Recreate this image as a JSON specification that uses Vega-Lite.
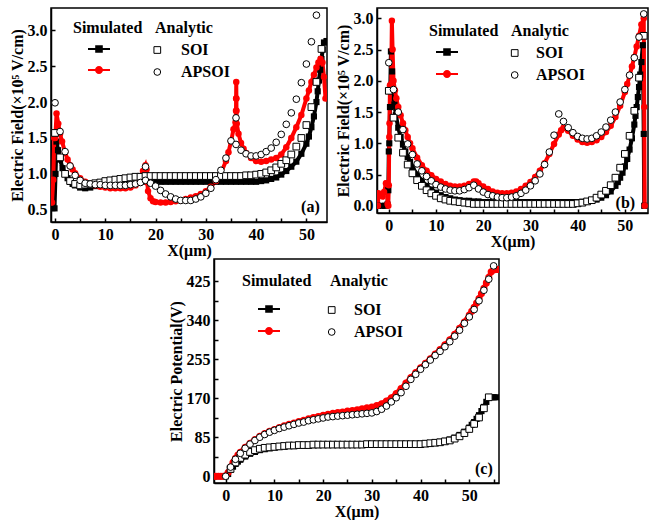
{
"$schema": "https://vega.github.io/schema/vega-lite/v6.json",
"padding": {"left": 8, "top": 7, "right": 0, "bottom": 0},
"datasets": {
"a_sim": [
{"dev":"SOI","x":-0.1,"y":0.52},{"dev":"SOI","x":0.1,"y":1.0},{"dev":"SOI","x":0.3,"y":1.45},{"dev":"SOI","x":0.6,"y":1.33},{"dev":"SOI","x":1,"y":1.2},{"dev":"SOI","x":1.5,"y":1.08},{"dev":"SOI","x":2,"y":1.0},{"dev":"SOI","x":2.5,"y":0.94},{"dev":"SOI","x":3,"y":0.89},{"dev":"SOI","x":3.5,"y":0.86},{"dev":"SOI","x":4,"y":0.84},{"dev":"SOI","x":5,"y":0.81},{"dev":"SOI","x":6,"y":0.8},{"dev":"SOI","x":7,"y":0.81},{"dev":"SOI","x":8,"y":0.83},{"dev":"SOI","x":9,"y":0.85},{"dev":"SOI","x":10,"y":0.86},{"dev":"SOI","x":11,"y":0.87},{"dev":"SOI","x":12,"y":0.88},{"dev":"SOI","x":13,"y":0.88},{"dev":"SOI","x":14,"y":0.89},{"dev":"SOI","x":15,"y":0.89},{"dev":"SOI","x":16,"y":0.89},{"dev":"SOI","x":17,"y":0.89},{"dev":"SOI","x":18,"y":0.89},{"dev":"SOI","x":19,"y":0.89},{"dev":"SOI","x":20,"y":0.89},{"dev":"SOI","x":21,"y":0.89},{"dev":"SOI","x":22,"y":0.89},{"dev":"SOI","x":23,"y":0.89},{"dev":"SOI","x":24,"y":0.89},{"dev":"SOI","x":25,"y":0.89},{"dev":"SOI","x":26,"y":0.89},{"dev":"SOI","x":27,"y":0.89},{"dev":"SOI","x":28,"y":0.89},{"dev":"SOI","x":29,"y":0.89},{"dev":"SOI","x":30,"y":0.89},{"dev":"SOI","x":31,"y":0.89},{"dev":"SOI","x":32,"y":0.89},{"dev":"SOI","x":33,"y":0.89},{"dev":"SOI","x":34,"y":0.89},{"dev":"SOI","x":35,"y":0.89},{"dev":"SOI","x":36,"y":0.89},{"dev":"SOI","x":37,"y":0.89},{"dev":"SOI","x":38,"y":0.89},{"dev":"SOI","x":39,"y":0.89},{"dev":"SOI","x":40,"y":0.89},{"dev":"SOI","x":41,"y":0.9},{"dev":"SOI","x":42,"y":0.91},{"dev":"SOI","x":43,"y":0.93},{"dev":"SOI","x":44,"y":0.95},{"dev":"SOI","x":45,"y":0.99},{"dev":"SOI","x":46,"y":1.04},{"dev":"SOI","x":47,"y":1.1},{"dev":"SOI","x":48,"y":1.17},{"dev":"SOI","x":49,"y":1.28},{"dev":"SOI","x":50,"y":1.42},{"dev":"SOI","x":50.5,"y":1.52},{"dev":"SOI","x":51,"y":1.65},{"dev":"SOI","x":51.5,"y":1.8},{"dev":"SOI","x":52,"y":2.0},{"dev":"SOI","x":52.25,"y":2.15},{"dev":"SOI","x":52.5,"y":2.3},{"dev":"SOI","x":52.75,"y":2.45},{"dev":"SOI","x":53,"y":2.6},{"dev":"SOI","x":53.25,"y":2.73},{"dev":"SOI","x":53.5,"y":2.83},{"dev":"SOI","x":54,"y":2.85},
{"dev":"APSOI","x":-0.6,"y":0.6},{"dev":"APSOI","x":-0.35,"y":0.92},{"dev":"APSOI","x":-0.15,"y":1.5},{"dev":"APSOI","x":0.05,"y":1.5},{"dev":"APSOI","x":0.3,"y":1.84},{"dev":"APSOI","x":0.65,"y":1.7},{"dev":"APSOI","x":1,"y":1.56},{"dev":"APSOI","x":1.4,"y":1.45},{"dev":"APSOI","x":2,"y":1.3},{"dev":"APSOI","x":2.5,"y":1.2},{"dev":"APSOI","x":3,"y":1.12},{"dev":"APSOI","x":3.5,"y":1.06},{"dev":"APSOI","x":4,"y":1.01},{"dev":"APSOI","x":5,"y":0.94},{"dev":"APSOI","x":6,"y":0.89},{"dev":"APSOI","x":7,"y":0.86},{"dev":"APSOI","x":8,"y":0.84},{"dev":"APSOI","x":9,"y":0.82},{"dev":"APSOI","x":10,"y":0.81},{"dev":"APSOI","x":11,"y":0.8},{"dev":"APSOI","x":12,"y":0.8},{"dev":"APSOI","x":13,"y":0.8},{"dev":"APSOI","x":14,"y":0.8},{"dev":"APSOI","x":15,"y":0.81},{"dev":"APSOI","x":16,"y":0.84},{"dev":"APSOI","x":16.5,"y":0.88},{"dev":"APSOI","x":17,"y":0.95},{"dev":"APSOI","x":17.5,"y":1.04},{"dev":"APSOI","x":18,"y":1.12},{"dev":"APSOI","x":18.2,"y":1.06},{"dev":"APSOI","x":18.35,"y":0.88},{"dev":"APSOI","x":18.5,"y":0.76},{"dev":"APSOI","x":19,"y":0.66},{"dev":"APSOI","x":19.5,"y":0.62},{"dev":"APSOI","x":20,"y":0.61},{"dev":"APSOI","x":21,"y":0.6},{"dev":"APSOI","x":22,"y":0.6},{"dev":"APSOI","x":23,"y":0.61},{"dev":"APSOI","x":24,"y":0.62},{"dev":"APSOI","x":25,"y":0.63},{"dev":"APSOI","x":26,"y":0.65},{"dev":"APSOI","x":27,"y":0.67},{"dev":"APSOI","x":28,"y":0.69},{"dev":"APSOI","x":29,"y":0.72},{"dev":"APSOI","x":30,"y":0.76},{"dev":"APSOI","x":31,"y":0.82},{"dev":"APSOI","x":32,"y":0.9},{"dev":"APSOI","x":33,"y":1.01},{"dev":"APSOI","x":34,"y":1.18},{"dev":"APSOI","x":34.5,"y":1.3},{"dev":"APSOI","x":35,"y":1.45},{"dev":"APSOI","x":35.5,"y":1.62},{"dev":"APSOI","x":35.9,"y":1.72},{"dev":"APSOI","x":36,"y":1.88},{"dev":"APSOI","x":36.02,"y":2.05},{"dev":"APSOI","x":36.05,"y":2.28},{"dev":"APSOI","x":36.08,"y":2.05},{"dev":"APSOI","x":36.1,"y":1.88},{"dev":"APSOI","x":36.15,"y":1.7},{"dev":"APSOI","x":36.5,"y":1.56},{"dev":"APSOI","x":37,"y":1.43},{"dev":"APSOI","x":37.5,"y":1.35},{"dev":"APSOI","x":38,"y":1.29},{"dev":"APSOI","x":39,"y":1.22},{"dev":"APSOI","x":40,"y":1.18},{"dev":"APSOI","x":41,"y":1.17},{"dev":"APSOI","x":42,"y":1.18},{"dev":"APSOI","x":43,"y":1.2},{"dev":"APSOI","x":44,"y":1.22},{"dev":"APSOI","x":45,"y":1.27},{"dev":"APSOI","x":46,"y":1.37},{"dev":"APSOI","x":47,"y":1.5},{"dev":"APSOI","x":48,"y":1.65},{"dev":"APSOI","x":49,"y":1.82},{"dev":"APSOI","x":50,"y":2.05},{"dev":"APSOI","x":50.5,"y":2.16},{"dev":"APSOI","x":51,"y":2.28},{"dev":"APSOI","x":51.5,"y":2.38},{"dev":"APSOI","x":52,"y":2.48},{"dev":"APSOI","x":52.4,"y":2.55},{"dev":"APSOI","x":52.8,"y":2.6},{"dev":"APSOI","x":53.2,"y":2.55},{"dev":"APSOI","x":53.5,"y":2.35},{"dev":"APSOI","x":53.8,"y":2.05}
],
"a_ana": [
{"dev":"SOI","x":0,"y":1.57},{"dev":"SOI","x":1,"y":1.23},{"dev":"SOI","x":2,"y":1.0},{"dev":"SOI","x":3,"y":0.9},{"dev":"SOI","x":4,"y":0.86},{"dev":"SOI","x":5,"y":0.84},{"dev":"SOI","x":6,"y":0.85},{"dev":"SOI","x":7,"y":0.86},{"dev":"SOI","x":8,"y":0.87},{"dev":"SOI","x":9,"y":0.88},{"dev":"SOI","x":10,"y":0.9},{"dev":"SOI","x":11,"y":0.91},{"dev":"SOI","x":12,"y":0.92},{"dev":"SOI","x":13,"y":0.93},{"dev":"SOI","x":14,"y":0.94},{"dev":"SOI","x":15,"y":0.95},{"dev":"SOI","x":16,"y":0.96},{"dev":"SOI","x":17,"y":0.96},{"dev":"SOI","x":18,"y":0.97},{"dev":"SOI","x":19,"y":0.97},{"dev":"SOI","x":20,"y":0.97},{"dev":"SOI","x":21,"y":0.97},{"dev":"SOI","x":22,"y":0.97},{"dev":"SOI","x":23,"y":0.97},{"dev":"SOI","x":24,"y":0.97},{"dev":"SOI","x":25,"y":0.97},{"dev":"SOI","x":26,"y":0.97},{"dev":"SOI","x":27,"y":0.97},{"dev":"SOI","x":28,"y":0.97},{"dev":"SOI","x":29,"y":0.97},{"dev":"SOI","x":30,"y":0.97},{"dev":"SOI","x":31,"y":0.97},{"dev":"SOI","x":32,"y":0.97},{"dev":"SOI","x":33,"y":0.97},{"dev":"SOI","x":34,"y":0.97},{"dev":"SOI","x":35,"y":0.97},{"dev":"SOI","x":36,"y":0.97},{"dev":"SOI","x":37,"y":0.97},{"dev":"SOI","x":38,"y":0.98},{"dev":"SOI","x":39,"y":0.98},{"dev":"SOI","x":40,"y":0.99},{"dev":"SOI","x":41,"y":1.0},{"dev":"SOI","x":42,"y":1.02},{"dev":"SOI","x":43,"y":1.05},{"dev":"SOI","x":44,"y":1.09},{"dev":"SOI","x":45,"y":1.14},{"dev":"SOI","x":46,"y":1.19},{"dev":"SOI","x":47,"y":1.27},{"dev":"SOI","x":48,"y":1.38},{"dev":"SOI","x":49,"y":1.5},{"dev":"SOI","x":50,"y":1.68},{"dev":"SOI","x":51,"y":1.93},{"dev":"SOI","x":52,"y":2.28},{"dev":"SOI","x":53,"y":2.74},
{"dev":"APSOI","x":0,"y":1.99},{"dev":"APSOI","x":1,"y":1.59},{"dev":"APSOI","x":2,"y":1.31},{"dev":"APSOI","x":3,"y":1.11},{"dev":"APSOI","x":4,"y":0.98},{"dev":"APSOI","x":5,"y":0.91},{"dev":"APSOI","x":6,"y":0.87},{"dev":"APSOI","x":7,"y":0.86},{"dev":"APSOI","x":8,"y":0.85},{"dev":"APSOI","x":9,"y":0.85},{"dev":"APSOI","x":10,"y":0.84},{"dev":"APSOI","x":11,"y":0.84},{"dev":"APSOI","x":12,"y":0.84},{"dev":"APSOI","x":13,"y":0.84},{"dev":"APSOI","x":14,"y":0.84},{"dev":"APSOI","x":15,"y":0.85},{"dev":"APSOI","x":16,"y":0.86},{"dev":"APSOI","x":17,"y":0.88},{"dev":"APSOI","x":18,"y":1.1},{"dev":"APSOI","x":18,"y":0.91},{"dev":"APSOI","x":19,"y":0.87},{"dev":"APSOI","x":20,"y":0.83},{"dev":"APSOI","x":21,"y":0.77},{"dev":"APSOI","x":22,"y":0.72},{"dev":"APSOI","x":23,"y":0.68},{"dev":"APSOI","x":24,"y":0.65},{"dev":"APSOI","x":25,"y":0.63},{"dev":"APSOI","x":26,"y":0.63},{"dev":"APSOI","x":27,"y":0.63},{"dev":"APSOI","x":28,"y":0.65},{"dev":"APSOI","x":29,"y":0.68},{"dev":"APSOI","x":30,"y":0.73},{"dev":"APSOI","x":31,"y":0.8},{"dev":"APSOI","x":32,"y":0.92},{"dev":"APSOI","x":33,"y":1.05},{"dev":"APSOI","x":34,"y":1.22},{"dev":"APSOI","x":35,"y":1.46},{"dev":"APSOI","x":36,"y":1.78},{"dev":"APSOI","x":36,"y":1.41},{"dev":"APSOI","x":37,"y":1.33},{"dev":"APSOI","x":38,"y":1.28},{"dev":"APSOI","x":39,"y":1.25},{"dev":"APSOI","x":40,"y":1.25},{"dev":"APSOI","x":41,"y":1.27},{"dev":"APSOI","x":42,"y":1.31},{"dev":"APSOI","x":43,"y":1.36},{"dev":"APSOI","x":44,"y":1.44},{"dev":"APSOI","x":45,"y":1.55},{"dev":"APSOI","x":46,"y":1.69},{"dev":"APSOI","x":47,"y":1.85},{"dev":"APSOI","x":48,"y":2.04},{"dev":"APSOI","x":49,"y":2.27},{"dev":"APSOI","x":50,"y":2.53},{"dev":"APSOI","x":51,"y":2.84},{"dev":"APSOI","x":52,"y":3.21}
],
"b_sim": [
{"dev":"SOI","x":-2.3,"y":0.0},{"dev":"SOI","x":-1.5,"y":0.0},{"dev":"SOI","x":-0.8,"y":0.0},{"dev":"SOI","x":-0.3,"y":0.02},{"dev":"SOI","x":-0.1,"y":0.25},{"dev":"SOI","x":0.0,"y":0.87},{"dev":"SOI","x":0.1,"y":1.0},{"dev":"SOI","x":0.25,"y":1.58},{"dev":"SOI","x":0.45,"y":2.47},{"dev":"SOI","x":0.7,"y":2.15},{"dev":"SOI","x":0.9,"y":1.85},{"dev":"SOI","x":1.2,"y":1.62},{"dev":"SOI","x":1.5,"y":1.45},{"dev":"SOI","x":2,"y":1.25},{"dev":"SOI","x":2.5,"y":1.1},{"dev":"SOI","x":3,"y":0.98},{"dev":"SOI","x":3.5,"y":0.87},{"dev":"SOI","x":4,"y":0.78},{"dev":"SOI","x":4.5,"y":0.7},{"dev":"SOI","x":5,"y":0.62},{"dev":"SOI","x":6,"y":0.5},{"dev":"SOI","x":7,"y":0.4},{"dev":"SOI","x":8,"y":0.32},{"dev":"SOI","x":9,"y":0.26},{"dev":"SOI","x":10,"y":0.21},{"dev":"SOI","x":11,"y":0.17},{"dev":"SOI","x":12,"y":0.14},{"dev":"SOI","x":13,"y":0.12},{"dev":"SOI","x":14,"y":0.1},{"dev":"SOI","x":15,"y":0.09},{"dev":"SOI","x":16,"y":0.08},{"dev":"SOI","x":17,"y":0.08},{"dev":"SOI","x":18,"y":0.07},{"dev":"SOI","x":19,"y":0.07},{"dev":"SOI","x":20,"y":0.06},{"dev":"SOI","x":21,"y":0.06},{"dev":"SOI","x":22,"y":0.06},{"dev":"SOI","x":23,"y":0.06},{"dev":"SOI","x":24,"y":0.06},{"dev":"SOI","x":25,"y":0.06},{"dev":"SOI","x":26,"y":0.06},{"dev":"SOI","x":27,"y":0.06},{"dev":"SOI","x":28,"y":0.06},{"dev":"SOI","x":29,"y":0.06},{"dev":"SOI","x":30,"y":0.06},{"dev":"SOI","x":31,"y":0.06},{"dev":"SOI","x":32,"y":0.06},{"dev":"SOI","x":33,"y":0.06},{"dev":"SOI","x":34,"y":0.06},{"dev":"SOI","x":35,"y":0.06},{"dev":"SOI","x":36,"y":0.06},{"dev":"SOI","x":37,"y":0.06},{"dev":"SOI","x":38,"y":0.06},{"dev":"SOI","x":39,"y":0.06},{"dev":"SOI","x":40,"y":0.06},{"dev":"SOI","x":41,"y":0.065},{"dev":"SOI","x":42,"y":0.07},{"dev":"SOI","x":43,"y":0.08},{"dev":"SOI","x":44,"y":0.1},{"dev":"SOI","x":45,"y":0.13},{"dev":"SOI","x":46,"y":0.17},{"dev":"SOI","x":47,"y":0.23},{"dev":"SOI","x":48,"y":0.32},{"dev":"SOI","x":48.5,"y":0.38},{"dev":"SOI","x":49,"y":0.45},{"dev":"SOI","x":49.5,"y":0.53},{"dev":"SOI","x":50,"y":0.63},{"dev":"SOI","x":50.5,"y":0.75},{"dev":"SOI","x":51,"y":0.9},{"dev":"SOI","x":51.5,"y":1.08},{"dev":"SOI","x":52,"y":1.3},{"dev":"SOI","x":52.25,"y":1.44},{"dev":"SOI","x":52.5,"y":1.58},{"dev":"SOI","x":52.75,"y":1.74},{"dev":"SOI","x":53,"y":1.9},{"dev":"SOI","x":53.25,"y":2.1},{"dev":"SOI","x":53.5,"y":2.3},{"dev":"SOI","x":53.8,"y":2.57},{"dev":"SOI","x":54.0,"y":1.15},{"dev":"SOI","x":54.1,"y":0.0},
{"dev":"APSOI","x":-2.3,"y":0.0},{"dev":"APSOI","x":-2.2,"y":0.2},{"dev":"APSOI","x":-1.8,"y":0.18},{"dev":"APSOI","x":-1.3,"y":0.15},{"dev":"APSOI","x":-1.0,"y":0.22},{"dev":"APSOI","x":-0.6,"y":0.36},{"dev":"APSOI","x":-0.4,"y":0.35},{"dev":"APSOI","x":-0.25,"y":0.03},{"dev":"APSOI","x":-0.1,"y":0.0},{"dev":"APSOI","x":0.0,"y":0.33},{"dev":"APSOI","x":0.1,"y":1.1},{"dev":"APSOI","x":0.15,"y":1.32},{"dev":"APSOI","x":0.25,"y":1.93},{"dev":"APSOI","x":0.5,"y":1.95},{"dev":"APSOI","x":0.65,"y":2.96},{"dev":"APSOI","x":0.8,"y":2.5},{"dev":"APSOI","x":1.0,"y":2.0},{"dev":"APSOI","x":1.3,"y":1.85},{"dev":"APSOI","x":1.6,"y":1.72},{"dev":"APSOI","x":2,"y":1.58},{"dev":"APSOI","x":2.5,"y":1.45},{"dev":"APSOI","x":3,"y":1.32},{"dev":"APSOI","x":3.5,"y":1.21},{"dev":"APSOI","x":4,"y":1.1},{"dev":"APSOI","x":4.5,"y":1.0},{"dev":"APSOI","x":5,"y":0.92},{"dev":"APSOI","x":6,"y":0.77},{"dev":"APSOI","x":7,"y":0.65},{"dev":"APSOI","x":8,"y":0.56},{"dev":"APSOI","x":9,"y":0.49},{"dev":"APSOI","x":10,"y":0.43},{"dev":"APSOI","x":11,"y":0.39},{"dev":"APSOI","x":12,"y":0.35},{"dev":"APSOI","x":13,"y":0.32},{"dev":"APSOI","x":14,"y":0.31},{"dev":"APSOI","x":15,"y":0.31},{"dev":"APSOI","x":16,"y":0.32},{"dev":"APSOI","x":17,"y":0.35},{"dev":"APSOI","x":18,"y":0.39},{"dev":"APSOI","x":18.5,"y":0.39},{"dev":"APSOI","x":19,"y":0.36},{"dev":"APSOI","x":20,"y":0.31},{"dev":"APSOI","x":21,"y":0.27},{"dev":"APSOI","x":22,"y":0.23},{"dev":"APSOI","x":23,"y":0.21},{"dev":"APSOI","x":24,"y":0.2},{"dev":"APSOI","x":25,"y":0.2},{"dev":"APSOI","x":26,"y":0.21},{"dev":"APSOI","x":27,"y":0.23},{"dev":"APSOI","x":28,"y":0.27},{"dev":"APSOI","x":29,"y":0.32},{"dev":"APSOI","x":30,"y":0.38},{"dev":"APSOI","x":31,"y":0.46},{"dev":"APSOI","x":32,"y":0.56},{"dev":"APSOI","x":33,"y":0.68},{"dev":"APSOI","x":34,"y":0.83},{"dev":"APSOI","x":35,"y":0.99},{"dev":"APSOI","x":36,"y":1.14},{"dev":"APSOI","x":36.5,"y":1.21},{"dev":"APSOI","x":37,"y":1.25},{"dev":"APSOI","x":37.5,"y":1.24},{"dev":"APSOI","x":38,"y":1.2},{"dev":"APSOI","x":39,"y":1.12},{"dev":"APSOI","x":40,"y":1.06},{"dev":"APSOI","x":41,"y":1.02},{"dev":"APSOI","x":42,"y":1.01},{"dev":"APSOI","x":43,"y":1.02},{"dev":"APSOI","x":44,"y":1.05},{"dev":"APSOI","x":45,"y":1.1},{"dev":"APSOI","x":46,"y":1.18},{"dev":"APSOI","x":47,"y":1.28},{"dev":"APSOI","x":48,"y":1.42},{"dev":"APSOI","x":49,"y":1.6},{"dev":"APSOI","x":50,"y":1.82},{"dev":"APSOI","x":50.5,"y":1.95},{"dev":"APSOI","x":51,"y":2.08},{"dev":"APSOI","x":51.5,"y":2.23},{"dev":"APSOI","x":52,"y":2.38},{"dev":"APSOI","x":52.5,"y":2.55},{"dev":"APSOI","x":53,"y":2.72},{"dev":"APSOI","x":53.5,"y":2.9},{"dev":"APSOI","x":54.0,"y":3.0},{"dev":"APSOI","x":54.1,"y":1.58},{"dev":"APSOI","x":54.2,"y":0.0}
],
"b_ana": [
{"dev":"SOI","x":0,"y":1.84},{"dev":"SOI","x":1,"y":1.41},{"dev":"SOI","x":2,"y":1.09},{"dev":"SOI","x":3,"y":0.85},{"dev":"SOI","x":4,"y":0.66},{"dev":"SOI","x":5,"y":0.52},{"dev":"SOI","x":6,"y":0.41},{"dev":"SOI","x":7,"y":0.32},{"dev":"SOI","x":8,"y":0.25},{"dev":"SOI","x":9,"y":0.2},{"dev":"SOI","x":10,"y":0.16},{"dev":"SOI","x":11,"y":0.12},{"dev":"SOI","x":12,"y":0.1},{"dev":"SOI","x":13,"y":0.08},{"dev":"SOI","x":14,"y":0.07},{"dev":"SOI","x":15,"y":0.06},{"dev":"SOI","x":16,"y":0.05},{"dev":"SOI","x":17,"y":0.04},{"dev":"SOI","x":18,"y":0.03},{"dev":"SOI","x":19,"y":0.03},{"dev":"SOI","x":20,"y":0.03},{"dev":"SOI","x":21,"y":0.03},{"dev":"SOI","x":22,"y":0.03},{"dev":"SOI","x":23,"y":0.03},{"dev":"SOI","x":24,"y":0.03},{"dev":"SOI","x":25,"y":0.03},{"dev":"SOI","x":26,"y":0.03},{"dev":"SOI","x":27,"y":0.03},{"dev":"SOI","x":28,"y":0.03},{"dev":"SOI","x":29,"y":0.03},{"dev":"SOI","x":30,"y":0.03},{"dev":"SOI","x":31,"y":0.03},{"dev":"SOI","x":32,"y":0.03},{"dev":"SOI","x":33,"y":0.03},{"dev":"SOI","x":34,"y":0.03},{"dev":"SOI","x":35,"y":0.03},{"dev":"SOI","x":36,"y":0.03},{"dev":"SOI","x":37,"y":0.03},{"dev":"SOI","x":38,"y":0.03},{"dev":"SOI","x":39,"y":0.03},{"dev":"SOI","x":40,"y":0.04},{"dev":"SOI","x":41,"y":0.05},{"dev":"SOI","x":42,"y":0.07},{"dev":"SOI","x":43,"y":0.09},{"dev":"SOI","x":44,"y":0.13},{"dev":"SOI","x":45,"y":0.18},{"dev":"SOI","x":46,"y":0.24},{"dev":"SOI","x":47,"y":0.33},{"dev":"SOI","x":48,"y":0.45},{"dev":"SOI","x":49,"y":0.61},{"dev":"SOI","x":50,"y":0.83},{"dev":"SOI","x":51,"y":1.12},{"dev":"SOI","x":52,"y":1.52},{"dev":"SOI","x":53,"y":2.05},{"dev":"SOI","x":54,"y":2.72},
{"dev":"APSOI","x":0,"y":2.29},{"dev":"APSOI","x":1,"y":1.86},{"dev":"APSOI","x":2,"y":1.5},{"dev":"APSOI","x":3,"y":1.22},{"dev":"APSOI","x":4,"y":0.99},{"dev":"APSOI","x":5,"y":0.82},{"dev":"APSOI","x":6,"y":0.67},{"dev":"APSOI","x":7,"y":0.56},{"dev":"APSOI","x":8,"y":0.47},{"dev":"APSOI","x":9,"y":0.4},{"dev":"APSOI","x":10,"y":0.34},{"dev":"APSOI","x":11,"y":0.3},{"dev":"APSOI","x":12,"y":0.27},{"dev":"APSOI","x":13,"y":0.25},{"dev":"APSOI","x":14,"y":0.24},{"dev":"APSOI","x":15,"y":0.24},{"dev":"APSOI","x":16,"y":0.26},{"dev":"APSOI","x":17,"y":0.29},{"dev":"APSOI","x":18,"y":0.33},{"dev":"APSOI","x":19,"y":0.27},{"dev":"APSOI","x":20,"y":0.22},{"dev":"APSOI","x":21,"y":0.18},{"dev":"APSOI","x":22,"y":0.16},{"dev":"APSOI","x":23,"y":0.14},{"dev":"APSOI","x":24,"y":0.13},{"dev":"APSOI","x":25,"y":0.13},{"dev":"APSOI","x":26,"y":0.14},{"dev":"APSOI","x":27,"y":0.16},{"dev":"APSOI","x":28,"y":0.2},{"dev":"APSOI","x":29,"y":0.25},{"dev":"APSOI","x":30,"y":0.32},{"dev":"APSOI","x":31,"y":0.4},{"dev":"APSOI","x":32,"y":0.51},{"dev":"APSOI","x":33,"y":0.66},{"dev":"APSOI","x":34,"y":0.86},{"dev":"APSOI","x":35,"y":1.13},{"dev":"APSOI","x":36,"y":1.47},{"dev":"APSOI","x":37,"y":1.35},{"dev":"APSOI","x":38,"y":1.25},{"dev":"APSOI","x":39,"y":1.17},{"dev":"APSOI","x":40,"y":1.11},{"dev":"APSOI","x":41,"y":1.08},{"dev":"APSOI","x":42,"y":1.07},{"dev":"APSOI","x":43,"y":1.08},{"dev":"APSOI","x":44,"y":1.12},{"dev":"APSOI","x":45,"y":1.18},{"dev":"APSOI","x":46,"y":1.26},{"dev":"APSOI","x":47,"y":1.37},{"dev":"APSOI","x":48,"y":1.5},{"dev":"APSOI","x":49,"y":1.66},{"dev":"APSOI","x":50,"y":1.86},{"dev":"APSOI","x":51,"y":2.09},{"dev":"APSOI","x":52,"y":2.37},{"dev":"APSOI","x":53,"y":2.7},{"dev":"APSOI","x":54,"y":3.07}
],
"c_sim": [
{"dev":"SOI","x":-2.4,"y":0},{"dev":"SOI","x":-1.5,"y":0},{"dev":"SOI","x":-0.5,"y":0},{"dev":"SOI","x":0,"y":0},{"dev":"SOI","x":0.5,"y":5},{"dev":"SOI","x":1,"y":14},{"dev":"SOI","x":1.5,"y":21},{"dev":"SOI","x":2,"y":27},{"dev":"SOI","x":2.5,"y":32},{"dev":"SOI","x":3,"y":36},{"dev":"SOI","x":4,"y":43},{"dev":"SOI","x":5,"y":49},{"dev":"SOI","x":6,"y":53},{"dev":"SOI","x":7,"y":57},{"dev":"SOI","x":8,"y":59},{"dev":"SOI","x":9,"y":61},{"dev":"SOI","x":10,"y":63},{"dev":"SOI","x":11,"y":64},{"dev":"SOI","x":12,"y":65},{"dev":"SOI","x":13,"y":66},{"dev":"SOI","x":14,"y":66},{"dev":"SOI","x":15,"y":67},{"dev":"SOI","x":16,"y":67},{"dev":"SOI","x":17,"y":68},{"dev":"SOI","x":18,"y":68},{"dev":"SOI","x":19,"y":68},{"dev":"SOI","x":20,"y":69},{"dev":"SOI","x":21,"y":69},{"dev":"SOI","x":22,"y":69},{"dev":"SOI","x":23,"y":69},{"dev":"SOI","x":24,"y":69},{"dev":"SOI","x":25,"y":69},{"dev":"SOI","x":26,"y":69},{"dev":"SOI","x":27,"y":69},{"dev":"SOI","x":28,"y":69},{"dev":"SOI","x":29,"y":69},{"dev":"SOI","x":30,"y":69},{"dev":"SOI","x":31,"y":70},{"dev":"SOI","x":32,"y":70},{"dev":"SOI","x":33,"y":70},{"dev":"SOI","x":34,"y":70},{"dev":"SOI","x":35,"y":70},{"dev":"SOI","x":36,"y":70},{"dev":"SOI","x":37,"y":70},{"dev":"SOI","x":38,"y":70},{"dev":"SOI","x":39,"y":70},{"dev":"SOI","x":40,"y":71},{"dev":"SOI","x":41,"y":71},{"dev":"SOI","x":42,"y":72},{"dev":"SOI","x":43,"y":73},{"dev":"SOI","x":44,"y":75},{"dev":"SOI","x":45,"y":77},{"dev":"SOI","x":46,"y":80},{"dev":"SOI","x":47,"y":84},{"dev":"SOI","x":48,"y":90},{"dev":"SOI","x":49,"y":97},{"dev":"SOI","x":50,"y":106},{"dev":"SOI","x":50.5,"y":112},{"dev":"SOI","x":51,"y":118},{"dev":"SOI","x":51.5,"y":125},{"dev":"SOI","x":52,"y":133},{"dev":"SOI","x":52.5,"y":142},{"dev":"SOI","x":53,"y":151},{"dev":"SOI","x":53.5,"y":162},{"dev":"SOI","x":54,"y":172},{"dev":"SOI","x":54.5,"y":172},{"dev":"SOI","x":55,"y":172},{"dev":"SOI","x":55.6,"y":172},
{"dev":"APSOI","x":-2.4,"y":0},{"dev":"APSOI","x":-2,"y":0},{"dev":"APSOI","x":-1.5,"y":0},{"dev":"APSOI","x":-1,"y":0},{"dev":"APSOI","x":-0.5,"y":0},{"dev":"APSOI","x":0,"y":1},{"dev":"APSOI","x":0.5,"y":8},{"dev":"APSOI","x":1,"y":20},{"dev":"APSOI","x":1.5,"y":30},{"dev":"APSOI","x":2,"y":39},{"dev":"APSOI","x":2.5,"y":46},{"dev":"APSOI","x":3,"y":52},{"dev":"APSOI","x":4,"y":63},{"dev":"APSOI","x":5,"y":72},{"dev":"APSOI","x":6,"y":80},{"dev":"APSOI","x":7,"y":87},{"dev":"APSOI","x":8,"y":93},{"dev":"APSOI","x":9,"y":98},{"dev":"APSOI","x":10,"y":102},{"dev":"APSOI","x":11,"y":106},{"dev":"APSOI","x":12,"y":110},{"dev":"APSOI","x":13,"y":113},{"dev":"APSOI","x":14,"y":116},{"dev":"APSOI","x":15,"y":119},{"dev":"APSOI","x":16,"y":122},{"dev":"APSOI","x":17,"y":125},{"dev":"APSOI","x":18,"y":128},{"dev":"APSOI","x":19,"y":130},{"dev":"APSOI","x":20,"y":133},{"dev":"APSOI","x":21,"y":135},{"dev":"APSOI","x":22,"y":137},{"dev":"APSOI","x":23,"y":139},{"dev":"APSOI","x":24,"y":140},{"dev":"APSOI","x":25,"y":142},{"dev":"APSOI","x":26,"y":143},{"dev":"APSOI","x":27,"y":145},{"dev":"APSOI","x":28,"y":147},{"dev":"APSOI","x":29,"y":149},{"dev":"APSOI","x":30,"y":151},{"dev":"APSOI","x":31,"y":154},{"dev":"APSOI","x":32,"y":158},{"dev":"APSOI","x":33,"y":164},{"dev":"APSOI","x":34,"y":171},{"dev":"APSOI","x":35,"y":180},{"dev":"APSOI","x":36,"y":191},{"dev":"APSOI","x":37,"y":203},{"dev":"APSOI","x":38,"y":215},{"dev":"APSOI","x":39,"y":226},{"dev":"APSOI","x":40,"y":236},{"dev":"APSOI","x":41,"y":246},{"dev":"APSOI","x":42,"y":256},{"dev":"APSOI","x":43,"y":266},{"dev":"APSOI","x":44,"y":276},{"dev":"APSOI","x":45,"y":286},{"dev":"APSOI","x":46,"y":297},{"dev":"APSOI","x":47,"y":309},{"dev":"APSOI","x":48,"y":322},{"dev":"APSOI","x":49,"y":336},{"dev":"APSOI","x":50,"y":351},{"dev":"APSOI","x":50.5,"y":359},{"dev":"APSOI","x":51,"y":368},{"dev":"APSOI","x":51.5,"y":377},{"dev":"APSOI","x":52,"y":387},{"dev":"APSOI","x":52.5,"y":398},{"dev":"APSOI","x":53,"y":409},{"dev":"APSOI","x":53.5,"y":421},{"dev":"APSOI","x":54,"y":433},{"dev":"APSOI","x":54.5,"y":445},{"dev":"APSOI","x":55,"y":449},{"dev":"APSOI","x":55.5,"y":450},{"dev":"APSOI","x":56,"y":450}
],
"c_ana": [
{"dev":"SOI","x":1,"y":16},{"dev":"SOI","x":2,"y":30},{"dev":"SOI","x":3,"y":40},{"dev":"SOI","x":4,"y":47},{"dev":"SOI","x":5,"y":53},{"dev":"SOI","x":6,"y":57},{"dev":"SOI","x":7,"y":60},{"dev":"SOI","x":8,"y":62},{"dev":"SOI","x":9,"y":63},{"dev":"SOI","x":10,"y":64},{"dev":"SOI","x":11,"y":65},{"dev":"SOI","x":12,"y":66},{"dev":"SOI","x":13,"y":67},{"dev":"SOI","x":14,"y":67},{"dev":"SOI","x":15,"y":68},{"dev":"SOI","x":16,"y":68},{"dev":"SOI","x":17,"y":68},{"dev":"SOI","x":18,"y":69},{"dev":"SOI","x":19,"y":69},{"dev":"SOI","x":20,"y":69},{"dev":"SOI","x":21,"y":69},{"dev":"SOI","x":22,"y":69},{"dev":"SOI","x":23,"y":69},{"dev":"SOI","x":24,"y":69},{"dev":"SOI","x":25,"y":69},{"dev":"SOI","x":26,"y":69},{"dev":"SOI","x":27,"y":69},{"dev":"SOI","x":28,"y":69},{"dev":"SOI","x":29,"y":70},{"dev":"SOI","x":30,"y":70},{"dev":"SOI","x":31,"y":70},{"dev":"SOI","x":32,"y":70},{"dev":"SOI","x":33,"y":70},{"dev":"SOI","x":34,"y":70},{"dev":"SOI","x":35,"y":70},{"dev":"SOI","x":36,"y":70},{"dev":"SOI","x":37,"y":70},{"dev":"SOI","x":38,"y":70},{"dev":"SOI","x":39,"y":70},{"dev":"SOI","x":40,"y":70},{"dev":"SOI","x":41,"y":71},{"dev":"SOI","x":42,"y":72},{"dev":"SOI","x":43,"y":73},{"dev":"SOI","x":44,"y":74},{"dev":"SOI","x":45,"y":76},{"dev":"SOI","x":46,"y":78},{"dev":"SOI","x":47,"y":82},{"dev":"SOI","x":48,"y":87},{"dev":"SOI","x":49,"y":94},{"dev":"SOI","x":50,"y":103},{"dev":"SOI","x":51,"y":114},{"dev":"SOI","x":52,"y":128},{"dev":"SOI","x":53,"y":148},{"dev":"SOI","x":54,"y":172},
{"dev":"APSOI","x":0,"y":0},{"dev":"APSOI","x":1,"y":20},{"dev":"APSOI","x":2,"y":37},{"dev":"APSOI","x":3,"y":50},{"dev":"APSOI","x":4,"y":61},{"dev":"APSOI","x":5,"y":70},{"dev":"APSOI","x":6,"y":78},{"dev":"APSOI","x":7,"y":85},{"dev":"APSOI","x":8,"y":91},{"dev":"APSOI","x":9,"y":96},{"dev":"APSOI","x":10,"y":100},{"dev":"APSOI","x":11,"y":104},{"dev":"APSOI","x":12,"y":107},{"dev":"APSOI","x":13,"y":110},{"dev":"APSOI","x":14,"y":113},{"dev":"APSOI","x":15,"y":116},{"dev":"APSOI","x":16,"y":118},{"dev":"APSOI","x":17,"y":121},{"dev":"APSOI","x":18,"y":123},{"dev":"APSOI","x":19,"y":125},{"dev":"APSOI","x":20,"y":127},{"dev":"APSOI","x":21,"y":129},{"dev":"APSOI","x":22,"y":130},{"dev":"APSOI","x":23,"y":131},{"dev":"APSOI","x":24,"y":132},{"dev":"APSOI","x":25,"y":133},{"dev":"APSOI","x":26,"y":134},{"dev":"APSOI","x":27,"y":135},{"dev":"APSOI","x":28,"y":136},{"dev":"APSOI","x":29,"y":137},{"dev":"APSOI","x":30,"y":138},{"dev":"APSOI","x":31,"y":141},{"dev":"APSOI","x":32,"y":146},{"dev":"APSOI","x":33,"y":153},{"dev":"APSOI","x":34,"y":162},{"dev":"APSOI","x":35,"y":171},{"dev":"APSOI","x":36,"y":182},{"dev":"APSOI","x":37,"y":196},{"dev":"APSOI","x":38,"y":211},{"dev":"APSOI","x":39,"y":222},{"dev":"APSOI","x":40,"y":233},{"dev":"APSOI","x":41,"y":243},{"dev":"APSOI","x":42,"y":253},{"dev":"APSOI","x":43,"y":263},{"dev":"APSOI","x":44,"y":272},{"dev":"APSOI","x":45,"y":282},{"dev":"APSOI","x":46,"y":293},{"dev":"APSOI","x":47,"y":305},{"dev":"APSOI","x":48,"y":318},{"dev":"APSOI","x":49,"y":333},{"dev":"APSOI","x":50,"y":347},{"dev":"APSOI","x":51,"y":363},{"dev":"APSOI","x":52,"y":382},{"dev":"APSOI","x":53,"y":405},{"dev":"APSOI","x":54,"y":429},{"dev":"APSOI","x":55,"y":458}
]
},
"vconcat": [
{
"hconcat": [
{
"width": 276, "height": 214,
"encoding": {
 "x": {"field": "x", "type": "quantitative", "scale": {"domain": [-0.8, 54.1], "nice": false, "zero": false}, "axis": {"title": "X(μm)", "values": [0,5,10,15,20,25,30,35,40,45,50], "labelExpr": "datum.value % 10 === 0 ? datum.label : ''"}},
 "y": {"field": "y", "type": "quantitative", "scale": {"domain": [0.33, 3.31], "nice": false, "zero": false}, "axis": {"title": "Electric Field(×10⁵ V/cm)", "values": [0.5,1,1.5,2,2.5,3], "format": ".1f"}}
},
"layer": [
 {"data": {"values": []}, "mark": {"type": "point", "filled": true, "color": "black", "fill": "black", "stroke": "black", "strokeWidth": 2, "opacity": 1},
  "encoding": {"shape": {"field": "dev", "type": "nominal", "scale": {"domain": ["SOI"], "range": ["M-1.1,-0.1H1.1V0.1H-1.1ZM-0.38,-0.38H0.38V0.38H-0.38Z"]}, "legend": {"title": "Simulated", "orient": "none", "legendX": 22, "legendY": 12, "labelExpr": "''", "symbolSize": 400, "symbolOffset": 16, "symbolStrokeWidth": 0, "symbolFillColor": "black", "symbolStrokeColor": "black", "symbolOpacity": 1, "titlePadding": 3, "padding": 0}}}},
 {"data": {"values": []}, "mark": {"type": "point", "filled": true, "color": "red", "fill": "red", "stroke": "red", "strokeWidth": 2, "opacity": 1},
  "encoding": {"shape": {"field": "dev", "type": "nominal", "scale": {"domain": ["APSOI"], "range": ["M-1.1,-0.1H1.1V0.1H-1.1ZM0.4,0A0.4,0.4,0,1,1,-0.4,0A0.4,0.4,0,1,1,0.4,0Z"]}, "legend": {"title": null, "orient": "none", "legendX": 22, "legendY": 52, "labelExpr": "''", "symbolSize": 400, "symbolOffset": 16, "symbolStrokeWidth": 0, "symbolFillColor": "red", "symbolStrokeColor": "red", "symbolOpacity": 1, "padding": 0}}}},
 {"data": {"name": "a_sim"}, "transform": [{"filter": "datum.dev === 'SOI'"}], "mark": {"type": "line", "color": "black", "strokeWidth": 4, "clip": true}},
 {"data": {"name": "a_sim"}, "transform": [{"filter": "datum.dev === 'APSOI'"}], "mark": {"type": "line", "color": "red", "strokeWidth": 4, "clip": true}},
 {"data": {"name": "a_sim"}, "transform": [{"filter": "datum.dev === 'SOI'"}], "mark": {"type": "point", "shape": "square", "filled": true, "color": "black", "size": 38, "opacity": 1, "clip": true}},
 {"data": {"name": "a_sim"}, "transform": [{"filter": "datum.dev === 'APSOI'"}], "mark": {"type": "point", "shape": "circle", "filled": true, "color": "red", "size": 42, "opacity": 1, "clip": true}},
 {"data": {"name": "a_ana"}, "mark": {"type": "point", "filled": false, "fill": "white", "stroke": "black", "strokeWidth": 1, "size": 45, "opacity": 1, "clip": true},
  "encoding": {"shape": {"field": "dev", "type": "nominal", "sort": "descending", "scale": {"range": ["square","circle"]}, "legend": {"title": "Analytic", "orient": "none", "legendX": 104, "legendY": 12, "symbolSize": 45, "symbolOffset": -5.7, "labelOffset": 15.7, "symbolStrokeWidth": 1, "rowPadding": 6, "titlePadding": 6, "padding": 0}}}},
 {"data": {"values": [{"x": 50.8, "y": 0.54, "label": "(a)"}]}, "mark": {"type": "text", "font": "Liberation Serif", "fontSize": 16, "fontWeight": "bold", "color": "black"}, "encoding": {"text": {"field": "label"}}}
],
"resolve": {"scale": {"shape": "independent"}}
},
{
"width": 271, "height": 205,
"encoding": {
 "x": {"field": "x", "type": "quantitative", "scale": {"domain": [-2.5, 54.9], "nice": false, "zero": false}, "axis": {"title": "X(μm)", "values": [0,5,10,15,20,25,30,35,40,45,50], "labelExpr": "datum.value % 10 === 0 ? datum.label : ''"}},
 "y": {"field": "y", "type": "quantitative", "scale": {"domain": [-0.115, 3.165], "nice": false, "zero": false}, "axis": {"title": "Electric Field(×10⁵ V/cm)", "values": [0,0.5,1,1.5,2,2.5,3], "format": ".1f"}}
},
"layer": [
 {"data": {"values": []}, "mark": {"type": "point", "filled": true, "color": "black", "fill": "black", "stroke": "black", "strokeWidth": 2, "opacity": 1},
  "encoding": {"shape": {"field": "dev", "type": "nominal", "scale": {"domain": ["SOI"], "range": ["M-1.1,-0.1H1.1V0.1H-1.1ZM-0.38,-0.38H0.38V0.38H-0.38Z"]}, "legend": {"title": "Simulated", "orient": "none", "legendX": 52, "legendY": 15, "labelExpr": "''", "symbolSize": 400, "symbolOffset": 8, "symbolStrokeWidth": 0, "symbolFillColor": "black", "symbolStrokeColor": "black", "symbolOpacity": 1, "titlePadding": 3, "padding": 0}}}},
 {"data": {"values": []}, "mark": {"type": "point", "filled": true, "color": "red", "fill": "red", "stroke": "red", "strokeWidth": 2, "opacity": 1},
  "encoding": {"shape": {"field": "dev", "type": "nominal", "scale": {"domain": ["APSOI"], "range": ["M-1.1,-0.1H1.1V0.1H-1.1ZM0.4,0A0.4,0.4,0,1,1,-0.4,0A0.4,0.4,0,1,1,0.4,0Z"]}, "legend": {"title": null, "orient": "none", "legendX": 52, "legendY": 56, "labelExpr": "''", "symbolSize": 400, "symbolOffset": 8, "symbolStrokeWidth": 0, "symbolFillColor": "red", "symbolStrokeColor": "red", "symbolOpacity": 1, "padding": 0}}}},
 {"data": {"name": "b_sim"}, "transform": [{"filter": "datum.dev === 'SOI'"}], "mark": {"type": "line", "color": "black", "strokeWidth": 4, "clip": true}},
 {"data": {"name": "b_sim"}, "transform": [{"filter": "datum.dev === 'APSOI'"}], "mark": {"type": "line", "color": "red", "strokeWidth": 4, "clip": true}},
 {"data": {"name": "b_sim"}, "transform": [{"filter": "datum.dev === 'SOI'"}], "mark": {"type": "point", "shape": "square", "filled": true, "color": "black", "size": 38, "opacity": 1, "clip": true}},
 {"data": {"name": "b_sim"}, "transform": [{"filter": "datum.dev === 'APSOI'"}], "mark": {"type": "point", "shape": "circle", "filled": true, "color": "red", "size": 42, "opacity": 1, "clip": true}},
 {"data": {"name": "b_ana"}, "mark": {"type": "point", "filled": false, "fill": "white", "stroke": "black", "strokeWidth": 1, "size": 45, "opacity": 1, "clip": true},
  "encoding": {"shape": {"field": "dev", "type": "nominal", "sort": "descending", "scale": {"range": ["square","circle"]}, "legend": {"title": "Analytic", "orient": "none", "legendX": 134, "legendY": 15, "symbolSize": 45, "symbolOffset": -4.3, "labelOffset": 13.3, "symbolStrokeWidth": 1, "rowPadding": 6, "titlePadding": 6, "padding": 0}}}},
 {"data": {"values": [{"x": 50.1, "y": 0.05, "label": "(b)"}]}, "mark": {"type": "text", "font": "Liberation Serif", "fontSize": 16, "fontWeight": "bold", "color": "black"}, "encoding": {"text": {"field": "label"}}}
],
"resolve": {"scale": {"shape": "independent"}}
}
],
"spacing": 6,
"resolve": {"scale": {"shape": "independent"}}
},
{
"hconcat": [
{"width": 116, "height": 10, "data": {"values": []}, "mark": {"type": "point"}, "view": {"stroke": null}},
{
"width": 285, "height": 224,
"encoding": {
 "x": {"field": "x", "type": "quantitative", "scale": {"domain": [-2.4, 56.1], "nice": false, "zero": false}, "axis": {"title": "X(μm)", "values": [0,5,10,15,20,25,30,35,40,45,50,55], "labelExpr": "datum.value % 10 === 0 ? datum.label : ''"}},
 "y": {"field": "y", "type": "quantitative", "scale": {"domain": [-14.6, 473], "nice": false, "zero": false}, "axis": {"title": "Electric Potential(V)", "values": [0,42.5,85,127.5,170,212.5,255,297.5,340,382.5,425], "labelExpr": "datum.value % 85 === 0 ? datum.label : ''"}}
},
"layer": [
 {"data": {"values": []}, "mark": {"type": "point", "filled": true, "color": "black", "fill": "black", "stroke": "black", "strokeWidth": 2, "opacity": 1},
  "encoding": {"shape": {"field": "dev", "type": "nominal", "scale": {"domain": ["SOI"], "range": ["M-1.1,-0.1H1.1V0.1H-1.1ZM-0.38,-0.38H0.38V0.38H-0.38Z"]}, "legend": {"title": "Simulated", "orient": "none", "legendX": 28, "legendY": 14, "labelExpr": "''", "symbolSize": 400, "symbolOffset": 17, "symbolStrokeWidth": 0, "symbolFillColor": "black", "symbolStrokeColor": "black", "symbolOpacity": 1, "titlePadding": 10, "padding": 0}}}},
 {"data": {"values": []}, "mark": {"type": "point", "filled": true, "color": "red", "fill": "red", "stroke": "red", "strokeWidth": 2, "opacity": 1},
  "encoding": {"shape": {"field": "dev", "type": "nominal", "scale": {"domain": ["APSOI"], "range": ["M-1.1,-0.1H1.1V0.1H-1.1ZM0.4,0A0.4,0.4,0,1,1,-0.4,0A0.4,0.4,0,1,1,0.4,0Z"]}, "legend": {"title": null, "orient": "none", "legendX": 28, "legendY": 62, "labelExpr": "''", "symbolSize": 400, "symbolOffset": 17, "symbolStrokeWidth": 0, "symbolFillColor": "red", "symbolStrokeColor": "red", "symbolOpacity": 1, "padding": 0}}}},
 {"data": {"name": "c_sim"}, "transform": [{"filter": "datum.dev === 'SOI'"}], "mark": {"type": "line", "color": "black", "strokeWidth": 4, "clip": true}},
 {"data": {"name": "c_sim"}, "transform": [{"filter": "datum.dev === 'APSOI'"}], "mark": {"type": "line", "color": "red", "strokeWidth": 5, "clip": true}},
 {"data": {"name": "c_sim"}, "transform": [{"filter": "datum.dev === 'SOI'"}], "mark": {"type": "point", "shape": "square", "filled": true, "color": "black", "size": 38, "opacity": 1, "clip": true}},
 {"data": {"name": "c_sim"}, "transform": [{"filter": "datum.dev === 'APSOI'"}], "mark": {"type": "point", "shape": "circle", "filled": true, "color": "red", "size": 50, "opacity": 1, "clip": true}},
 {"data": {"name": "c_ana"}, "mark": {"type": "point", "filled": false, "fill": "white", "stroke": "black", "strokeWidth": 1, "size": 45, "opacity": 1, "clip": true},
  "encoding": {"shape": {"field": "dev", "type": "nominal", "sort": "descending", "scale": {"range": ["square","circle"]}, "legend": {"title": "Analytic", "orient": "none", "legendX": 116, "legendY": 14, "symbolSize": 45, "symbolOffset": -6.3, "labelOffset": 14.3, "symbolStrokeWidth": 1, "rowPadding": 6, "titlePadding": 13, "padding": 0}}}},
 {"data": {"values": [{"x": 53.0, "y": 16, "label": "(c)"}]}, "mark": {"type": "text", "font": "Liberation Serif", "fontSize": 16, "fontWeight": "bold", "color": "black"}, "encoding": {"text": {"field": "label"}}}
],
"resolve": {"scale": {"shape": "independent"}}
}
],
"spacing": 0,
"resolve": {"scale": {"shape": "independent"}}
}
],
"spacing": -2,
"resolve": {"scale": {"shape": "independent"}},
"config": {
 "font": "Liberation Serif",
 "view": {"stroke": "black", "strokeWidth": 1.5},
 "axis": {"labelFont": "Liberation Serif", "labelFontSize": 16, "labelFontWeight": "bold", "labelColor": "black", "titleFont": "Liberation Serif", "titleFontSize": 16, "titleFontWeight": "bold", "titleColor": "black", "domainColor": "black", "domainWidth": 1.5, "tickColor": "black", "tickWidth": 1.5, "tickSize": -4, "labelPadding": 8, "grid": false, "titlePadding": 2, "labelOverlap": false},
 "axisX": {"titlePadding": 0},
 "legend": {"titleFont": "Liberation Serif", "titleFontSize": 16, "titleFontWeight": "bold", "titleColor": "black", "labelFont": "Liberation Serif", "labelFontSize": 16, "labelFontWeight": "bold", "labelColor": "black", "titleLimit": 0, "labelLimit": 0}
}
}
